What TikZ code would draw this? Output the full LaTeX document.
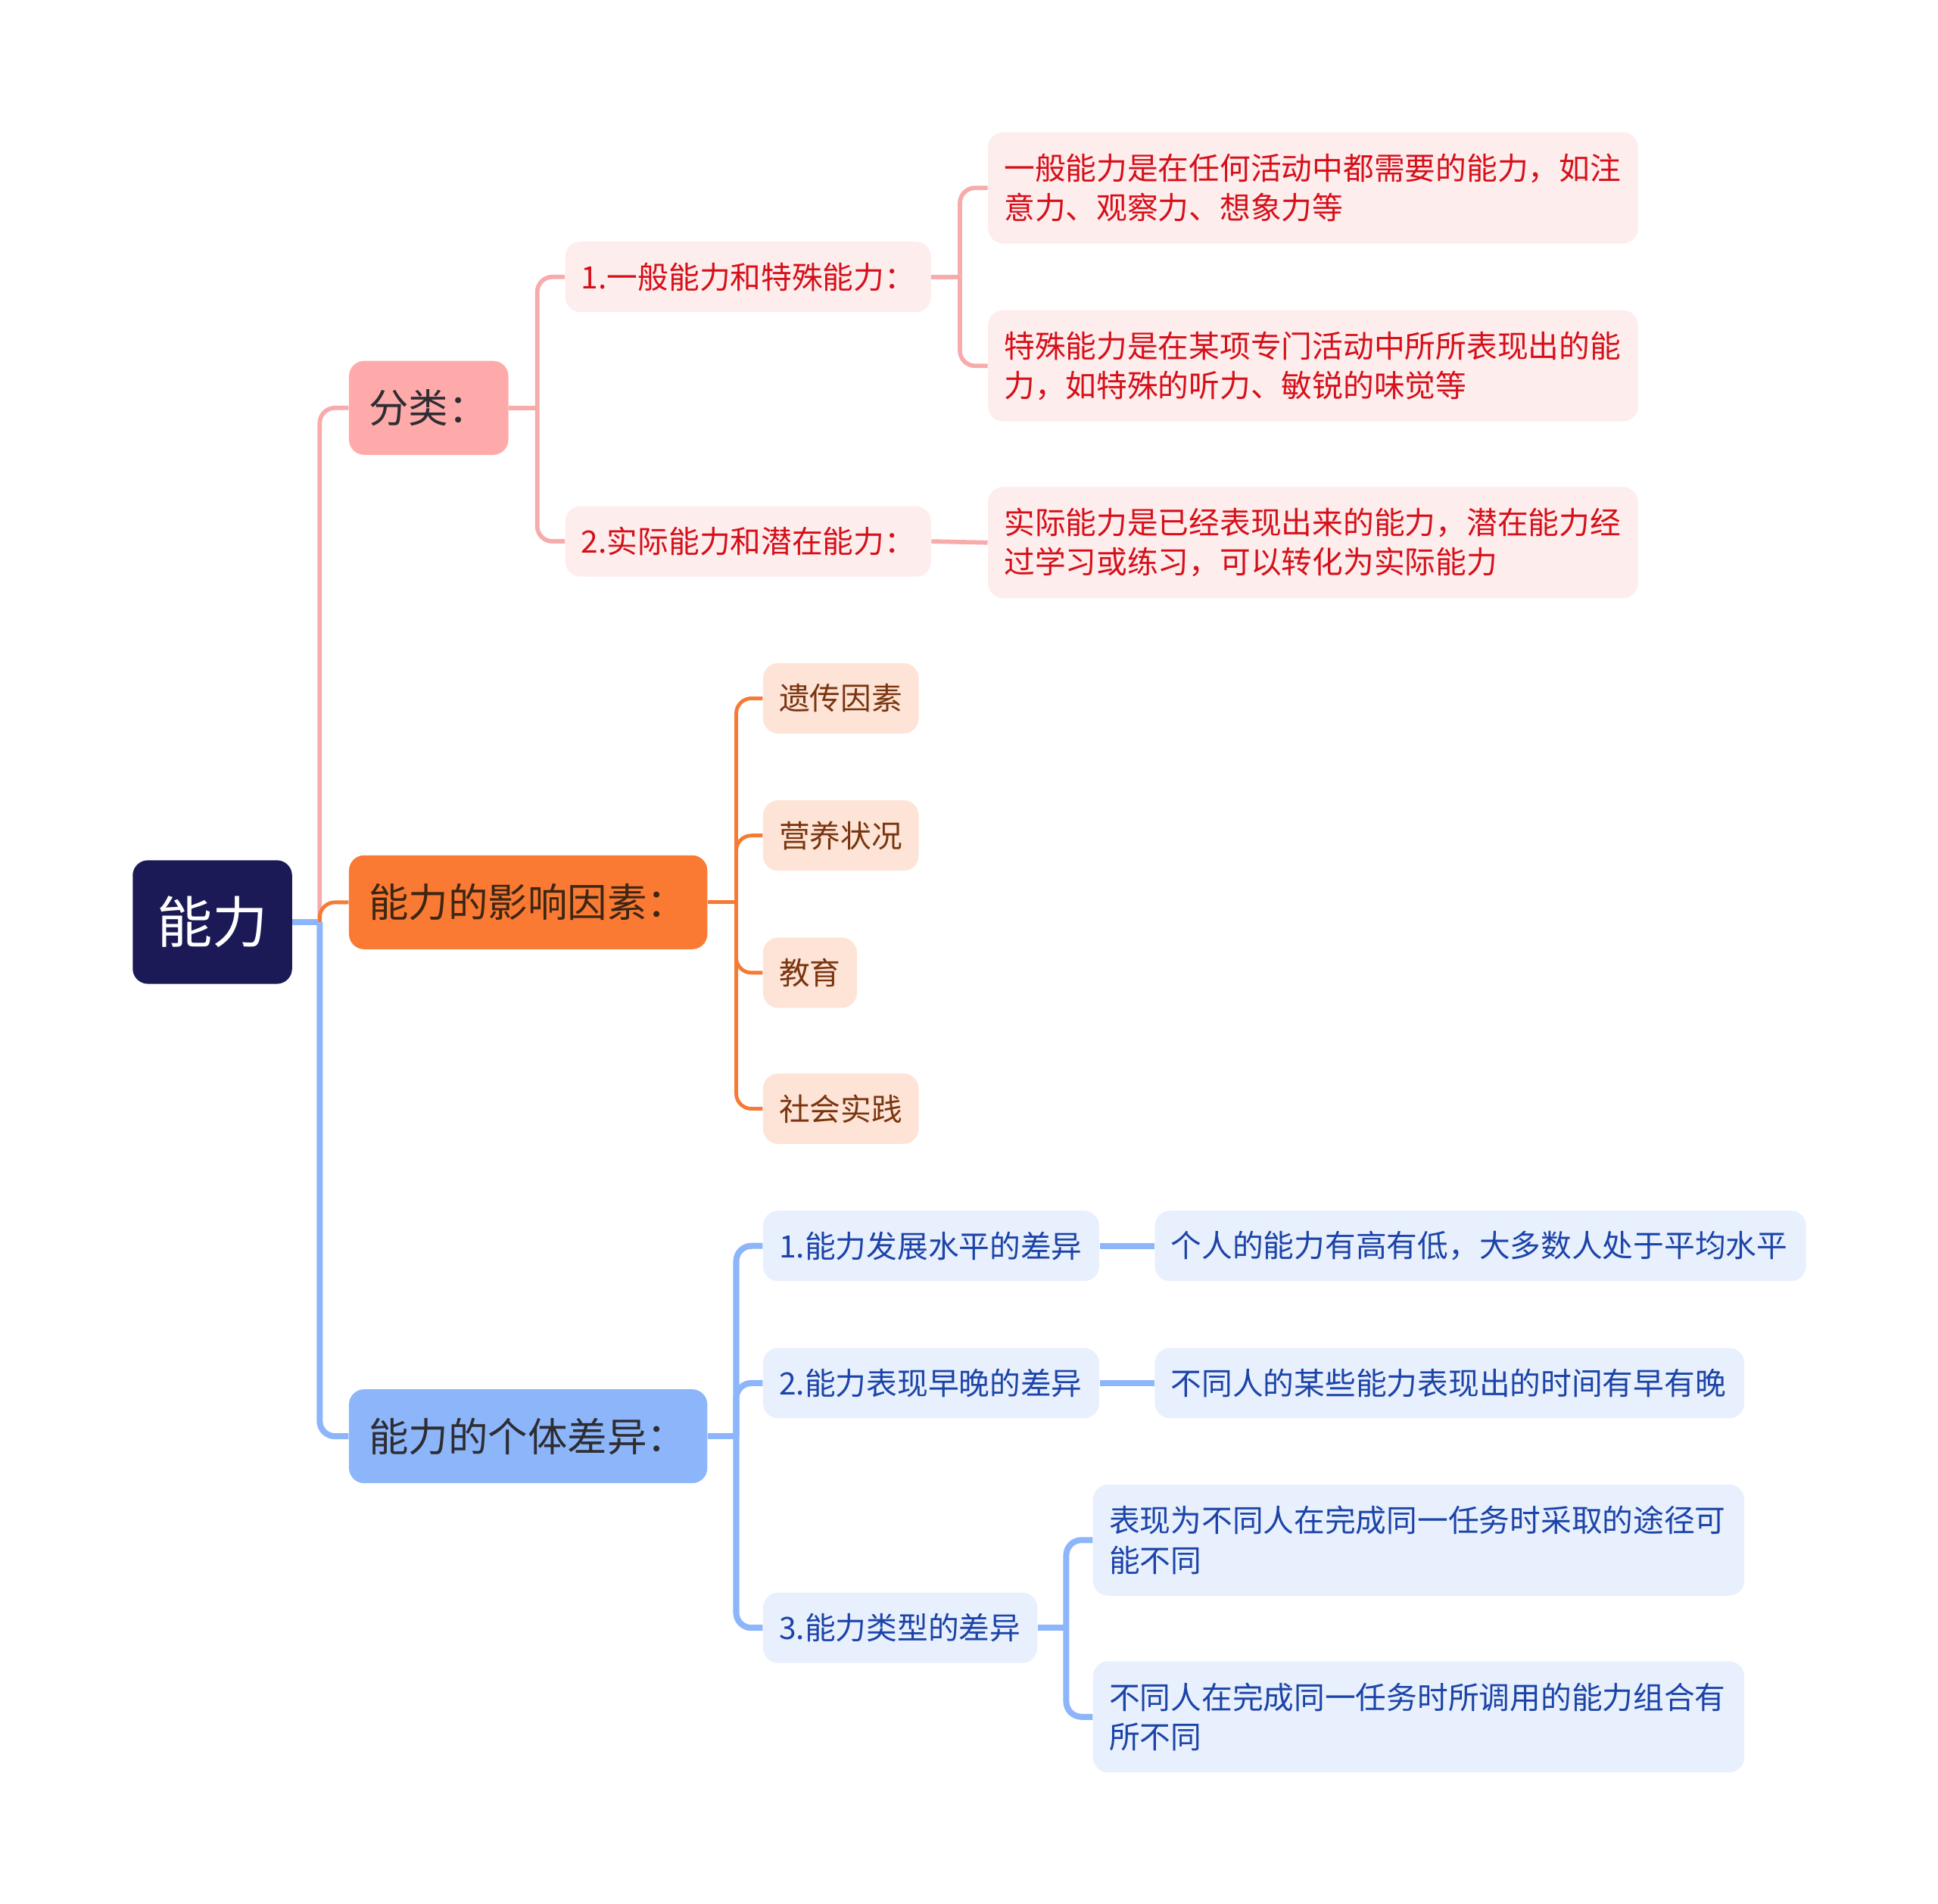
\documentclass[tikz,border=0pt]{standalone}
\usepackage{fontspec}
\setmainfont{Noto Sans CJK SC}
\usepackage{tikz}

% colours
\definecolor{navy}{RGB}{27,26,87}
\definecolor{fpink}{RGB}{255,170,170}
\definecolor{forange}{RGB}{250,122,51}
\definecolor{fblue}{RGB}{141,182,250}
\definecolor{lpink}{RGB}{253,237,237}
\definecolor{lorange}{RGB}{253,228,214}
\definecolor{lblue}{RGB}{232,240,253}
\definecolor{tdark}{RGB}{45,45,50}
\definecolor{tbrown}{RGB}{60,38,20}
\definecolor{tred}{RGB}{214,16,26}
\definecolor{tbrownb}{RGB}{122,53,16}
\definecolor{tblue}{RGB}{28,68,168}
\definecolor{cpink}{RGB}{248,171,171}
\definecolor{corange}{RGB}{245,122,53}
\definecolor{cblue}{RGB}{141,182,250}

\begin{document}
\begin{tikzpicture}[x=0.02cm,y=-0.02cm,
  box/.style={rounded corners=7pt, anchor=west, inner ysep=0pt, align=left},
  rootbox/.style={box, fill=navy, text=white, minimum width=2.58cm,
    minimum height=2cm, align=center, font=\fontsize{25.6}{30}\selectfont},
  topic/.style={box, inner xsep=0.32cm, minimum height=1.52cm,
    font=\fontsize{18.3}{22}\selectfont},
  sub/.style={box, inner xsep=0.26cm, minimum height=1.14cm,
    font=\fontsize{14.2}{18.2}\selectfont},
  leaf/.style={minimum height=1.8cm},
  redsub/.style={sub, fill=lpink, text=tred},
  orsub/.style={sub, fill=lorange, text=tbrownb},
  bluesub/.style={sub, fill=lblue, text=tblue},
  pinkline/.style={draw=cpink, line width=2pt, rounded corners=7pt},
  orline/.style={draw=corange, line width=1.7pt, rounded corners=7pt},
  blueline/.style={draw=cblue, line width=2.8pt, rounded corners=7pt}]

  \useasboundingbox (0,0) rectangle (1568,1540);

  % root and topics
  \node[rootbox] (root) at (107,746) {能力};
  \node[topic, fill=fpink, text=tdark, text width=1.94cm] (fenlei) at (282,330) {分类：};
  \node[topic, fill=forange, text=tbrown, text width=5.16cm] (yingxiang) at (282,730) {能力的影响因素：};
  \node[topic, fill=fblue, text=tdark, text width=5.16cm] (chayi) at (282,1162) {能力的个体差异：};

  % classification
  \node[redsub, text width=5.4cm] (lei1) at (457,224) {1.一般能力和特殊能力：};
  \node[redsub, text width=5.4cm] (lei2) at (457,438) {2.实际能力和潜在能力：};
  \node[redsub, leaf, text width=10cm] (yiban) at (799,152)
    {一般能力是在任何活动中都需要的能力，如注\\意力、观察力、想象力等};
  \node[redsub, leaf, text width=10cm] (teshu) at (799,296)
    {特殊能力是在某项专门活动中所所表现出的能\\力，如特殊的听力、敏锐的味觉等};
  \node[redsub, leaf, text width=10cm] (shiji) at (799,439)
    {实际能力是已经表现出来的能力，潜在能力经\\过学习或练习，可以转化为实际能力};

  % factors
  \node[orsub, text width=2cm] (yichuan) at (617,565) {遗传因素};
  \node[orsub, text width=2cm] (yingyang) at (617,676) {营养状况};
  \node[orsub, text width=1cm] (jiaoyu) at (617,787) {教育};
  \node[orsub, text width=2cm] (shehui) at (617,897) {社会实践};

  % differences
  \node[bluesub, text width=4.92cm] (cha1) at (617,1008) {1.能力发展水平的差异};
  \node[bluesub, text width=4.92cm] (cha2) at (617,1119) {2.能力表现早晚的差异};
  \node[bluesub, text width=3.92cm] (cha3) at (617,1317) {3.能力类型的差异};
  \node[bluesub, text width=10.02cm] (gaodi) at (934,1008) {个人的能力有高有低，大多数人处于平均水平};
  \node[bluesub, text width=9.02cm] (zaowan) at (934,1119) {不同人的某些能力表现出的时间有早有晚};
  \node[bluesub, leaf, text width=10.02cm] (tujing) at (884,1246)
    {表现为不同人在完成同一任务时采取的途径可\\能不同};
  \node[bluesub, leaf, text width=10.02cm] (zuhe) at (884,1389)
    {不同人在完成同一任务时所调用的能力组合有\\所不同};

  % connectors from root
  \draw[blueline] (root.east) -- ++(22,0) coordinate (jroot);
  \draw[blueline] (jroot) |- (chayi.west);
  \draw[pinkline] (jroot) |- (fenlei.west);
  \draw[orline] (jroot) |- (yingxiang.west);

  % classification branch
  \draw[pinkline] (fenlei.east) -- ++(23,0) coordinate (jfen);
  \foreach \n in {lei1,lei2}
    \draw[pinkline] (jfen) |- (\n.west);
  \draw[pinkline] (lei1.east) -- ++(23,0) coordinate (jlei);
  \foreach \n in {yiban,teshu}
    \draw[pinkline] (jlei) |- (\n.west);
  \draw[pinkline] (lei2.east) -- (shiji.west);

  % factor branch
  \draw[orline] (yingxiang.east) -- ++(23,0) coordinate (jying);
  \foreach \n in {yichuan,yingyang,jiaoyu,shehui}
    \draw[orline] (jying) |- (\n.west);

  % difference branch
  \draw[blueline] (chayi.east) -- ++(23,0) coordinate (jcha);
  \foreach \n in {cha1,cha2,cha3}
    \draw[blueline] (jcha) |- (\n.west);
  \draw[blueline] (cha1.east) -- (gaodi.west);
  \draw[blueline] (cha2.east) -- (zaowan.west);
  \draw[blueline] (cha3.east) -- ++(23,0) coordinate (jlx);
  \foreach \n in {tujing,zuhe}
    \draw[blueline] (jlx) |- (\n.west);

\end{tikzpicture}
\end{document}
